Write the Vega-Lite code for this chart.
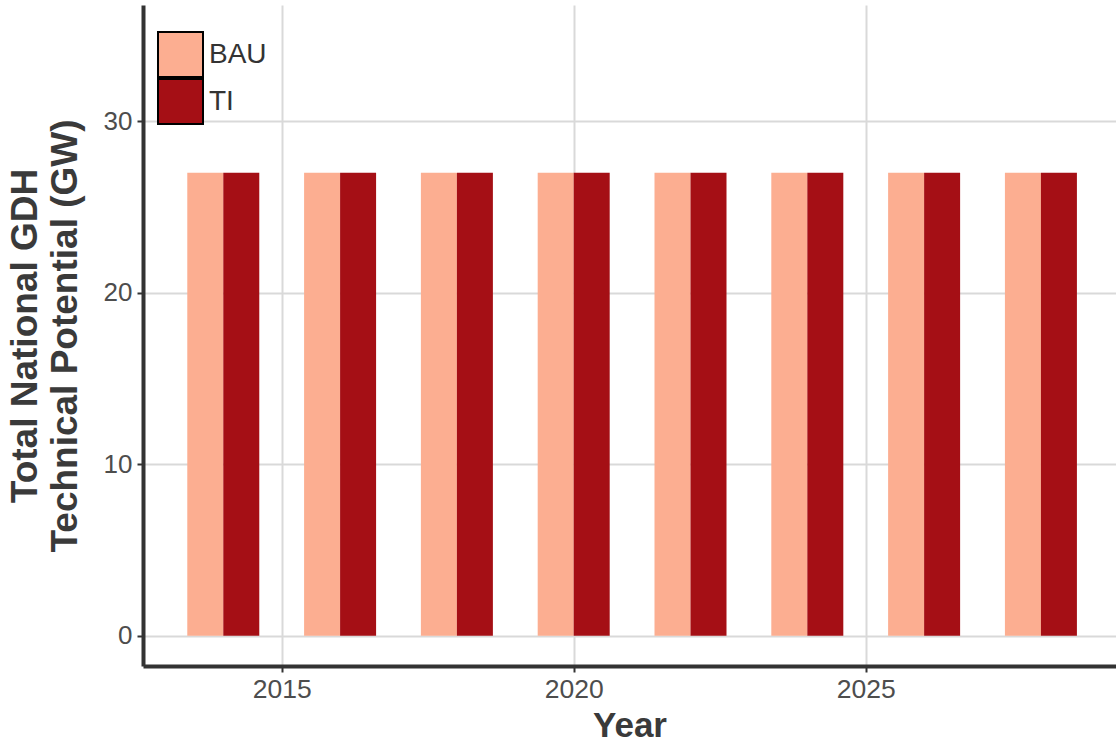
{
  "$schema": "https://vega.github.io/schema/vega-lite/v6.json",
  "width": 973,
  "height": 661,
  "autosize": {"type": "none"},
  "padding": {"left": 143, "top": 5, "right": 0, "bottom": 78},
  "background": "white",
  "config": {"view": {"stroke": null}, "font": "Liberation Sans"},
  "data": {"values": [
    {"year": 2014, "scenario": "BAU", "gw": 27}, {"year": 2014, "scenario": "TI", "gw": 27},
    {"year": 2016, "scenario": "BAU", "gw": 27}, {"year": 2016, "scenario": "TI", "gw": 27},
    {"year": 2018, "scenario": "BAU", "gw": 27}, {"year": 2018, "scenario": "TI", "gw": 27},
    {"year": 2020, "scenario": "BAU", "gw": 27}, {"year": 2020, "scenario": "TI", "gw": 27},
    {"year": 2022, "scenario": "BAU", "gw": 27}, {"year": 2022, "scenario": "TI", "gw": 27},
    {"year": 2024, "scenario": "BAU", "gw": 27}, {"year": 2024, "scenario": "TI", "gw": 27},
    {"year": 2026, "scenario": "BAU", "gw": 27}, {"year": 2026, "scenario": "TI", "gw": 27},
    {"year": 2028, "scenario": "BAU", "gw": 27}, {"year": 2028, "scenario": "TI", "gw": 27}
  ]},
  "encoding": {
    "x": {
      "field": "year", "type": "quantitative",
      "scale": {"domain": [2012.711, 2029.2], "nice": false, "zero": false},
      "axis": {
        "values": [2015, 2020, 2025], "format": "d",
        "grid": true, "gridColor": "#D9D9D9", "gridWidth": 2,
        "domainColor": "#333333", "domainWidth": 4,
        "tickColor": "#333333", "tickWidth": 2, "tickSize": 6,
        "labelFontSize": 26.5, "labelColor": "#4D4D4D", "labelPadding": 4,
        "title": "Year", "titleFontSize": 35, "titleFontWeight": "bold", "titleColor": "#3A3A3A",
        "titlePadding": 6
      }
    },
    "y": {
      "field": "gw", "type": "quantitative",
      "scale": {"domain": [-1.77, 36.78], "nice": false, "zero": false},
      "axis": {
        "values": [0, 10, 20, 30],
        "grid": true, "gridColor": "#D9D9D9", "gridWidth": 2,
        "domainColor": "#333333", "domainWidth": 4,
        "tickColor": "#333333", "tickWidth": 2, "tickSize": 6,
        "labelFontSize": 26, "labelColor": "#4D4D4D", "labelPadding": 5,
        "title": ["Total National GDH", "Technical Potential (GW)"],
        "titleFontSize": 37, "titleFontWeight": "bold", "titleColor": "#3A3A3A",
        "titleLineHeight": 40, "titlePadding": 19
      }
    },
    "color": {
      "field": "scenario", "type": "nominal",
      "scale": {"domain": ["BAU", "TI"], "range": ["#FCAE91", "#A50F15"]},
      "legend": {
        "orient": "none", "legendX": 12, "legendY": 26, "title": null,
        "symbolType": "square", "symbolSize": 2025, "symbolOffset": 2,
        "symbolStrokeColor": "black", "symbolStrokeWidth": 2,
        "labelFontSize": 28, "labelColor": "#333333", "labelOffset": 5,
        "rowPadding": -2, "clipHeight": 47, "padding": 0
      }
    }
  },
  "layer": [
    {"transform": [{"filter": "datum.scenario === 'BAU'"}], "mark": {"type": "bar", "width": 36, "xOffset": -18}},
    {"transform": [{"filter": "datum.scenario === 'TI'"}], "mark": {"type": "bar", "width": 36, "xOffset": 18}}
  ]
}
